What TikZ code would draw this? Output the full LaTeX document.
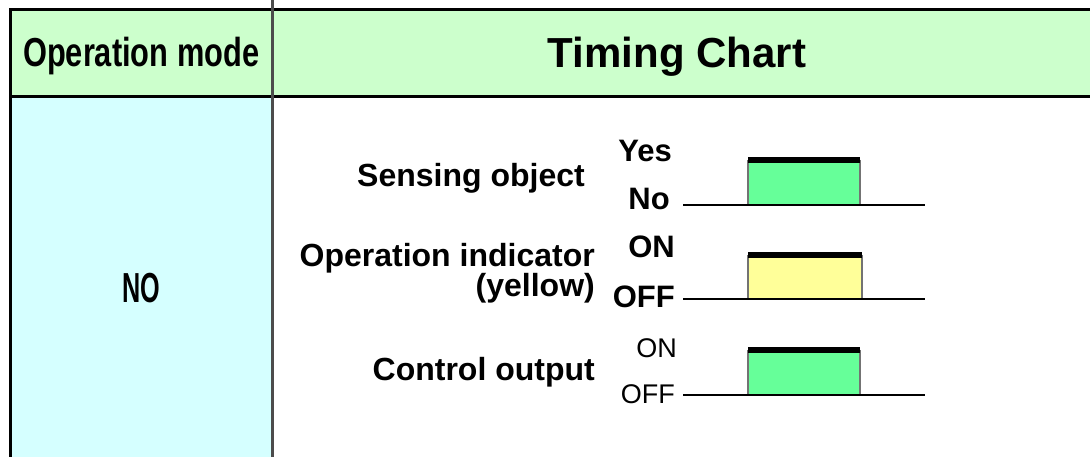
\documentclass[tikz,border=0pt]{standalone}
\usepackage{fontspec}
\setmainfont{Liberation Sans}
\usetikzlibrary{positioning}
\definecolor{hdrgreen}{HTML}{CCFFCC}
\definecolor{modecyan}{HTML}{D5FFFF}
\definecolor{pulsegreen}{HTML}{66FF99}
\definecolor{pulseyellow}{HTML}{FFFF99}
\tikzset{
  siglabel/.style={inner sep=0pt,font=\fontsize{32}{36}\selectfont\bfseries},
  levelbold/.style={inner sep=0pt,font=\fontsize{31}{36}\selectfont\bfseries},
  levelthin/.style={inner sep=0pt,font=\fontsize{27}{30}\selectfont},
  sigline/.style={line width=2.8pt},
  pulseside/.style={black!55,line width=1.6pt},
  frameline/.style={line width=3pt},
}

\begin{document}
\begin{tikzpicture}[x=1pt,y=-1pt]
\useasboundingbox (0,0) rectangle (1090,457);
% table
\fill[hdrgreen] (10,10) rectangle (1090,97);
\fill[modecyan] (10,97) rectangle (272,457);
\draw[frameline] (10,457) -- (10,10) -- (1090,10);
\draw[frameline] (10,97) -- (1090,97);
\draw[line width=3pt,black!70] (272,0) -- (272,457);
\node[anchor=base west,inner sep=0pt,xscale=.76,font=\fontsize{40.5}{44}\selectfont\bfseries] (mode) at (23,67) {Operation mode};
\node[anchor=base,inner sep=0pt,font=\fontsize{42}{46}\selectfont\bfseries] (chart) at (677,68) {Timing Chart};
\node[anchor=base,inner sep=0pt,xscale=.6,font=\fontsize{42}{46}\selectfont\bfseries] (no) at (141,302) {NO};
% labels
\node[siglabel,anchor=base east] (sens) at (585,187) {Sensing object};
\node[siglabel,anchor=base east] (ind) at (595,267) {Operation indicator};
\node[siglabel,anchor=base east] (yel) at (595,297) {(yellow)};
\node[siglabel,anchor=base east] (ctrl) at (595,380) {Control output};
\node[levelbold,anchor=base east] (yes) at (672,162) {Yes};
\node[levelbold,anchor=base east] (nolvl) at (670,210) {No};
\node[levelbold,anchor=base east] (on1) at (675,258) {ON};
\node[levelbold,anchor=base east] (off1) at (675,307) {OFF};
\node[levelthin,anchor=base east] (on2) at (677,357) {ON};
\node[levelthin,anchor=base east] (off2) at (675,403) {OFF};
% sensing object
\coordinate (sa) at (683,205);
\coordinate (sb) at (925,205);
\fill[pulsegreen] (748,160) rectangle (860,205);
\draw[pulseside] (748,205) -- (748,160) (860,160) -- (860,205);
\fill (748,157) rectangle (860,163);
\draw[sigline] (sa) -- (sb);
% operation indicator
\coordinate (ia) at (683,299);
\coordinate (ib) at (925,299);
\fill[pulseyellow] (748,255) rectangle (862,299);
\draw[pulseside] (748,299) -- (748,255) (862,255) -- (862,299);
\fill (748,252) rectangle (862,258);
\draw[sigline] (ia) -- (ib);
% control output
\coordinate (ca) at (683,395);
\coordinate (cb) at (925,395);
\fill[pulsegreen] (748,350) rectangle (860,395);
\draw[pulseside] (748,395) -- (748,350) (860,350) -- (860,395);
\fill (748,347) rectangle (860,353);
\draw[sigline] (ca) -- (cb);
\end{tikzpicture}
\end{document}
